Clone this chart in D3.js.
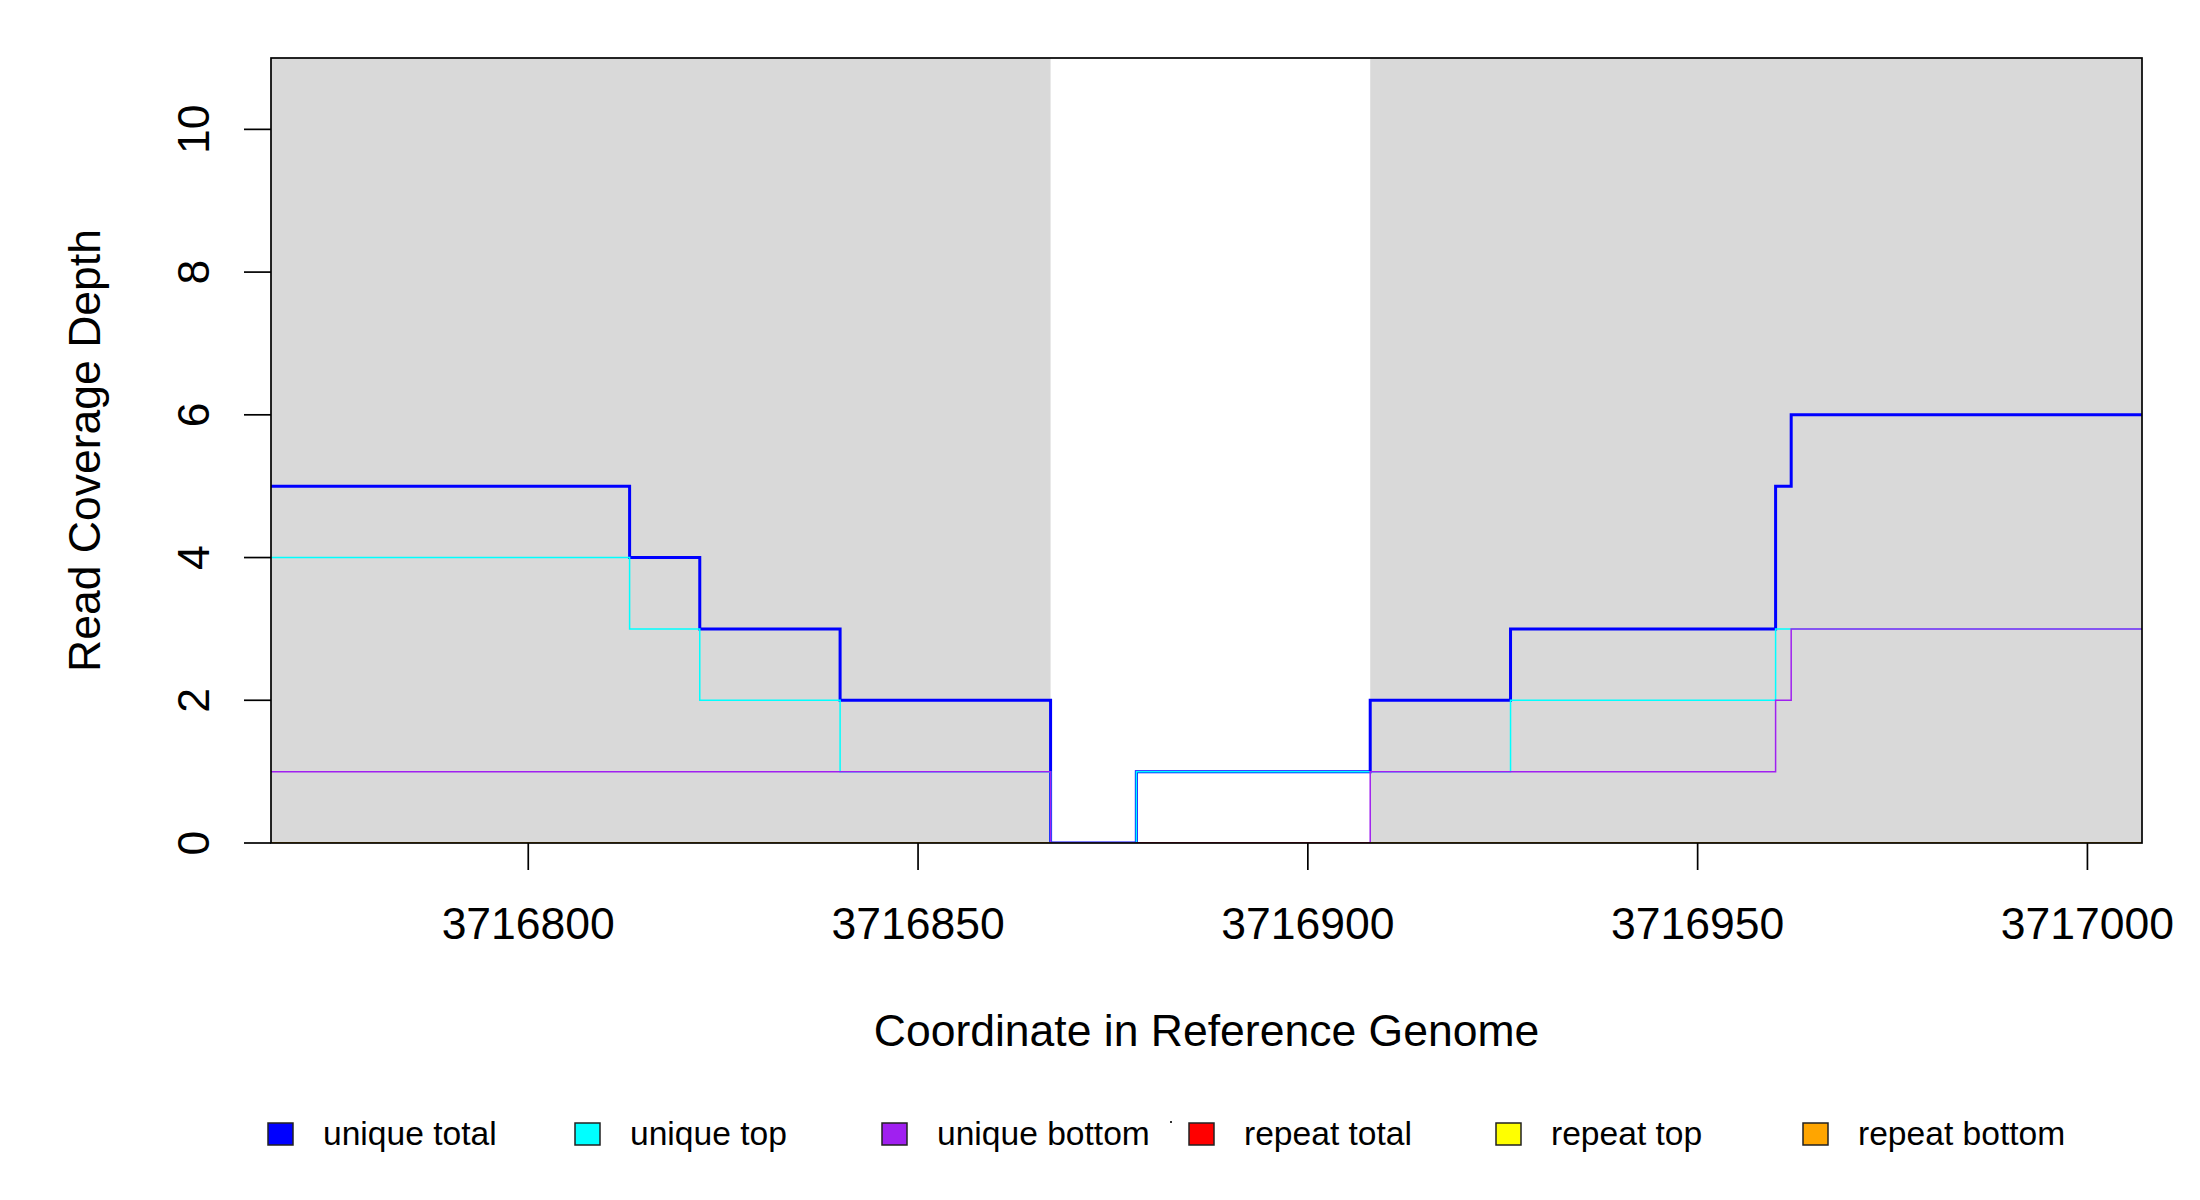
<!DOCTYPE html>
<html>
<head>
<meta charset="utf-8">
<script src="https://cdn.jsdelivr.net/npm/d3@7"></script>
<style>
  body { margin: 0; background: #fff; }
  text { font-family: 'Liberation Sans', Arial, Helvetica, sans-serif; fill: #000; }
</style>
</head>
<body>
<div id="chart"></div>
<script>
// step boundaries along the genome, each series holds one value per interval
const positions = [3716767, 3716813, 3716822, 3716840, 3716867, 3716878, 3716908, 3716926, 3716960, 3716962, 3717007]

const uniqueTotal = [5, 4, 3, 2, 0, 1, 2, 3, 5, 6]
const uniqueTop = [4, 3, 2, 1, 0, 1, 1, 2, 3, 3]
const uniqueBottom = [1, 1, 1, 1, 0, 0, 1, 1, 2, 3]
const repeatTotal = [0, 0, 0, 0, null, 0, 0, 0, 0, 0]
const repeatTop = [0, 0, 0, 0, null, null, 0, 0, 0, 0]
const repeatBottom = [0, 0, 0, 0, null, null, 0, 0, 0, 0]

// shaded feature intervals
const shaded = [[3716767, 3716867], [3716908, 3717007]]

const xTicks = [3716800, 3716850, 3716900, 3716950, 3717000]
const yTicks = [0, 2, 4, 6, 8, 10]

const seriesNames = ['unique total', 'unique top', 'unique bottom', 'repeat total', 'repeat top', 'repeat bottom']
const seriesColors = ['#0000ff', '#00ffff', '#a020f0', '#ff0000', '#ffff00', '#ffa500']
const seriesValues = [uniqueTotal, uniqueTop, uniqueBottom, repeatTotal, repeatTop, repeatBottom]
const seriesWidths = [3, 1.5, 1.5, 1.5, 1.5, 1.5]

const width = 2200
const height = 1200
const plot = { left: 271, right: 2142, top: 58, bottom: 843 }
const axisFont = '44.5px'
const legendFont = '33.6px'

const svg = d3.select('#chart')
  .append('svg')
  .attr('width', width)
  .attr('height', height)

svg.append('rect')
  .attr('width', width)
  .attr('height', height)
  .attr('fill', '#fff')

const x = d3.scaleLinear()
  .domain([3716767, 3717007])
  .range([plot.left, plot.right])

const y = d3.scaleLinear()
  .domain([0, 11])
  .range([plot.bottom, plot.top])

svg.append('clipPath')
  .attr('id', 'plot-clip')
  .append('rect')
  .attr('x', plot.left)
  .attr('y', plot.top)
  .attr('width', plot.right - plot.left)
  .attr('height', plot.bottom - plot.top)

const inner = svg.append('g').attr('clip-path', 'url(#plot-clip)')

inner.selectAll('.shade')
  .data(shaded)
  .enter()
  .append('rect')
  .attr('class', 'shade')
  .attr('x', d => x(d[0]))
  .attr('width', d => x(d[1]) - x(d[0]))
  .attr('y', plot.top)
  .attr('height', plot.bottom - plot.top)
  .attr('fill', '#d9d9d9')

// frame
svg.append('rect')
  .attr('x', plot.left)
  .attr('y', plot.top)
  .attr('width', plot.right - plot.left)
  .attr('height', plot.bottom - plot.top)
  .attr('fill', 'none')
  .attr('stroke', '#000')
  .attr('stroke-width', 1.7)

// turn interval values into step points, null breaks the line
function stepPoints (values) {
  const pts = []
  values.forEach((v, i) => {
    if (v === null) {
      pts.push(null)
      return
    }
    pts.push([positions[i], v])
    pts.push([positions[i + 1], v])
  })
  return pts
}

const line = d3.line()
  .defined(d => d !== null)
  .x(d => x(d[0]))
  .y(d => y(d[1]))

inner.selectAll('.series')
  .data(seriesValues)
  .enter()
  .append('path')
  .attr('class', 'series')
  .attr('d', d => line(stepPoints(d)))
  .attr('fill', 'none')
  .attr('stroke', (d, i) => seriesColors[i])
  .attr('stroke-width', (d, i) => seriesWidths[i])
  .attr('stroke-linejoin', 'miter')
  .attr('stroke-linecap', 'butt')

// y axis
const yAxis = svg.append('g')
yAxis.selectAll('line')
  .data(yTicks)
  .enter()
  .append('line')
  .attr('x1', plot.left - 27)
  .attr('x2', plot.left)
  .attr('y1', d => y(d))
  .attr('y2', d => y(d))
  .attr('stroke', '#000')
  .attr('stroke-width', 1.7)
yAxis.selectAll('text')
  .data(yTicks)
  .enter()
  .append('text')
  .attr('transform', d => 'translate(209,' + y(d) + ') rotate(-90)')
  .attr('text-anchor', 'middle')
  .style('font-size', axisFont)
  .text(d => d)

// x axis
const xAxis = svg.append('g')
xAxis.selectAll('line')
  .data(xTicks)
  .enter()
  .append('line')
  .attr('x1', d => x(d))
  .attr('x2', d => x(d))
  .attr('y1', plot.bottom)
  .attr('y2', plot.bottom + 27)
  .attr('stroke', '#000')
  .attr('stroke-width', 1.7)
xAxis.selectAll('text')
  .data(xTicks)
  .enter()
  .append('text')
  .attr('x', d => x(d))
  .attr('y', 939)
  .attr('text-anchor', 'middle')
  .style('font-size', axisFont)
  .text(d => d)

svg.append('text')
  .attr('x', (plot.left + plot.right) / 2)
  .attr('y', 1046)
  .attr('text-anchor', 'middle')
  .style('font-size', axisFont)
  .text('Coordinate in Reference Genome')

svg.append('text')
  .attr('transform', 'translate(100,' + (plot.top + plot.bottom) / 2 + ') rotate(-90)')
  .attr('text-anchor', 'middle')
  .style('font-size', axisFont)
  .text('Read Coverage Depth')

// legend
const legendStart = 268
const legendStep = 307
const legend = svg.append('g')
  .selectAll('g')
  .data(seriesNames)
  .enter()
  .append('g')
  .attr('transform', (d, i) => 'translate(' + (legendStart + i * legendStep) + ',1123)')

legend.append('rect')
  .attr('width', 25)
  .attr('height', 22)
  .attr('fill', (d, i) => seriesColors[i])
  .attr('stroke', '#222')
  .attr('stroke-width', 1.5)

legend.append('text')
  .attr('x', 55)
  .attr('y', 22)
  .style('font-size', legendFont)
  .text(d => d)

// stray dot that sits between the third and fourth legend entries
svg.append('rect')
  .attr('x', legendStart + 2 * legendStep + 288)
  .attr('y', 1121)
  .attr('width', 2)
  .attr('height', 2)
  .attr('fill', '#333')
</script>
</body>
</html>
